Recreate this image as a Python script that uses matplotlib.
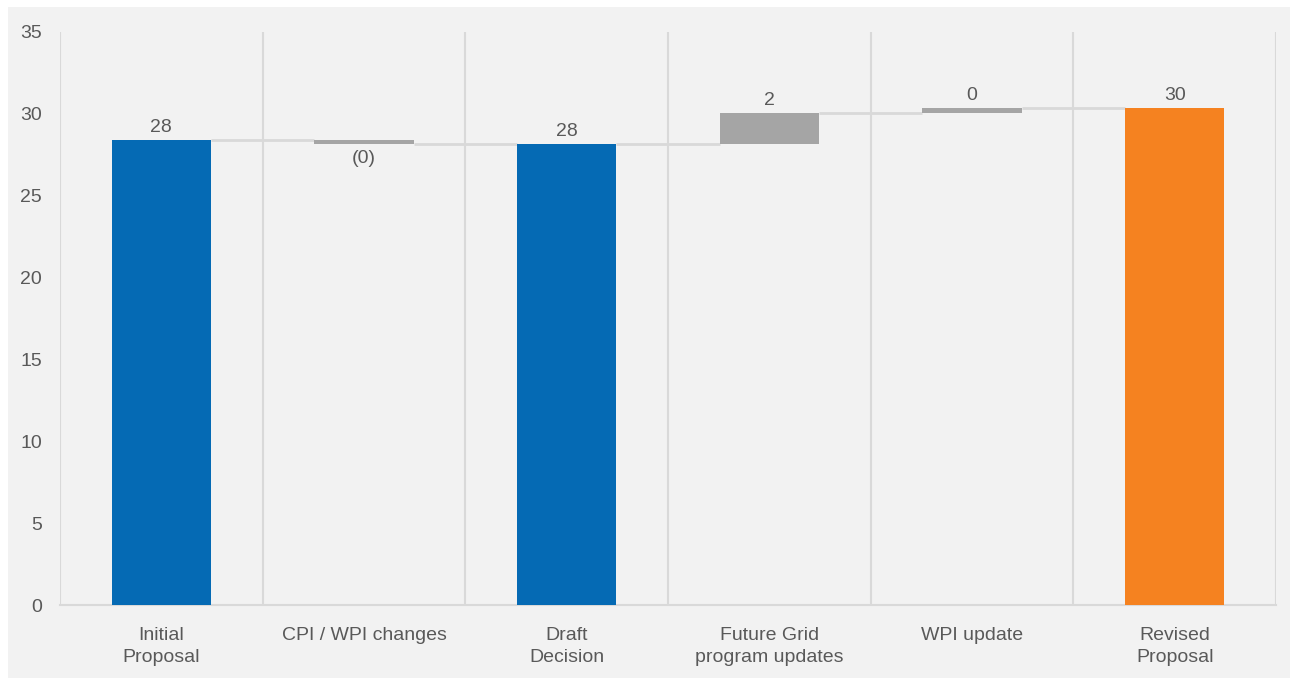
import matplotlib.pyplot as plt
from matplotlib.patches import Rectangle

plt.rcParams["font.family"] = ["Liberation Sans", "DejaVu Sans"]

categories = ["Initial\nProposal", "CPI / WPI changes", "Draft\nDecision",
              "Future Grid\nprogram updates", "WPI update", "Revised\nProposal"]
values = [28.4, -0.25, 28.15, 1.9, 0.3, 30.35]
kinds = ["total", "step", "total", "step", "step", "total"]

blue = "#056ab4"
orange = "#f58220"
grey = "#a5a5a5"
light = "#d9d9d9"
text_col = "#595959"
bg = "#f2f2f2"

fig = plt.figure(figsize=(12.9, 6.79), dpi=100, facecolor="white")
fig.patches.append(Rectangle((8 / 1290, 1 / 679), 1, (679 - 8) / 679,
                             transform=fig.transFigure, facecolor=bg,
                             edgecolor="none", zorder=-10))
ax = fig.add_axes([60 / 1290, 74 / 679, 1216 / 1290, 573 / 679])
ax.set_facecolor(bg)

width = 0.49
running = 0.0
tops = []
for i, (v, k) in enumerate(zip(values, kinds)):
    if k == "total":
        bottom, height = 0, v
        color = orange if i == len(values) - 1 else blue
        running = v
    else:
        bottom, height = running, v
        color = grey
        running = running + v
    ax.bar(i, height, bottom=bottom, width=width, color=color, zorder=3)
    tops.append(running)

    if v < 0:
        label = "({:.0f})".format(abs(v))
        y, off, va = bottom + height, -4, "top"
    else:
        label = "{:.0f}".format(v)
        y, off, va = bottom + height, 3, "bottom"
    ax.annotate(label, (i, y), xytext=(0, off), textcoords="offset points",
                ha="center", va=va, fontsize=14, color=text_col, zorder=4)

# connectors between consecutive bars
for i in range(len(values) - 1):
    ax.plot([i + width / 2, i + 1 - width / 2], [tops[i], tops[i]],
            color=light, lw=2, zorder=2, solid_capstyle="butt")

for xb in range(len(values) + 1):
    ax.axvline(xb - 0.5, color=light, lw=1.5, zorder=1)

ax.set_xlim(-0.5, len(values) - 0.5)
ax.set_ylim(0, 35)
ax.set_yticks(range(0, 36, 5))
ax.set_xticks(range(len(values)))
ax.set_xticklabels(categories, linespacing=1.35)
ax.tick_params(axis="x", length=0, pad=16, labelsize=14, labelcolor=text_col)
ax.tick_params(axis="y", length=0, pad=13, labelsize=14, labelcolor=text_col)
for side in ["top", "right", "left"]:
    ax.spines[side].set_visible(False)
ax.spines["bottom"].set_color(light)
ax.spines["bottom"].set_linewidth(1.5)

fig.savefig("out.png", dpi=100, facecolor=fig.get_facecolor())
